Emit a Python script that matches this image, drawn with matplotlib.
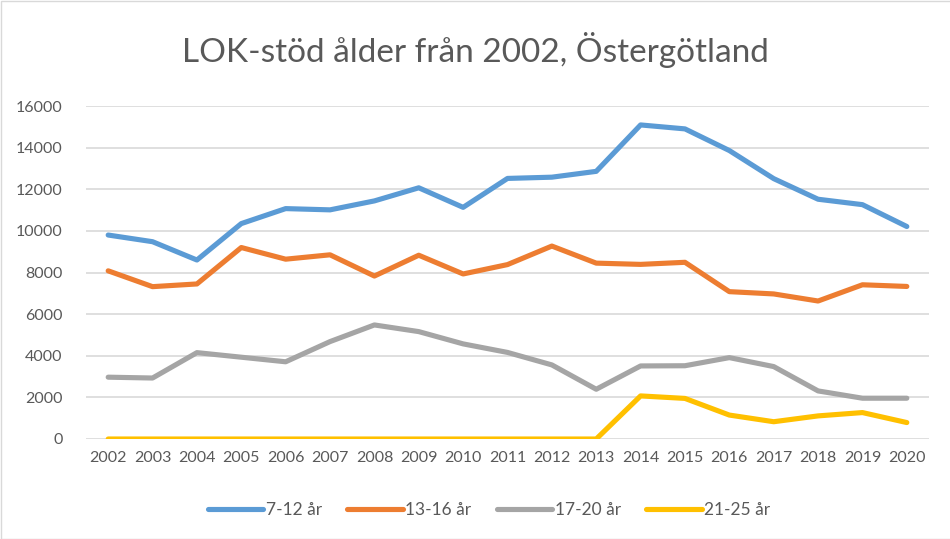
import matplotlib
matplotlib.use("Agg")
import matplotlib.pyplot as plt
from matplotlib.patches import Rectangle

plt.rcParams['font.family'] = ['Lato', 'DejaVu Sans']

years = [str(y) for y in range(2002, 2021)]
s_7_12 = [9800, 9480, 8600, 10350, 11070, 11010, 11440, 12070, 11130, 12520,
          12580, 12860, 15090, 14900, 13860, 12510, 11520, 11260, 10210]
s_13_16 = [8080, 7320, 7450, 9200, 8640, 8850, 7830, 8830, 7930, 8380,
           9270, 8450, 8390, 8490, 7080, 6970, 6630, 7410, 7330]
s_17_20 = [2970, 2930, 4150, 3930, 3710, 4680, 5480, 5160, 4570, 4160,
           3560, 2390, 3510, 3520, 3910, 3480, 2310, 1960, 1960]
s_21_25 = [0, 0, 0, 0, 0, 0, 0, 0, 0, 0,
           0, 0, 2070, 1950, 1150, 830, 1110, 1270, 790]

series = [("7-12 år", s_7_12, "#5B9BD5"),
          ("13-16 år", s_13_16, "#ED7D31"),
          ("17-20 år", s_17_20, "#A5A5A5"),
          ("21-25 år", s_21_25, "#FFC000")]
yticks = list(range(0, 16001, 2000))

fig = plt.figure(figsize=(9.5, 5.39), dpi=100)
ax = fig.add_axes([86/950, 1-439/539, (929-86)/950, (439-106)/539])

x = list(range(len(years)))
for name, vals, col in series:
    ax.plot(x, vals, color=col, lw=3.7, label=name, solid_capstyle='round',
            solid_joinstyle='round')

ax.set_xlim(-0.5, len(years) - 0.5)
ax.set_ylim(0, 16000)
ax.set_yticks(yticks)
ax.set_yticklabels([str(v) for v in yticks])
ax.set_xticks(x)
ax.set_xticklabels(years)
ax.tick_params(axis='both', length=0, colors='#595959', labelsize=11.5)
ax.tick_params(axis='y', pad=17)
ax.tick_params(axis='x', pad=9)
for sp in ax.spines.values():
    sp.set_visible(False)
ax.grid(axis='y', color='#D9D9D9', lw=1.2)
ax.set_axisbelow(True)

fig.text(0.5, 1 - 50/539, "LOK-stöd ålder från 2002, Östergötland",
         ha='center', va='center', fontsize=24, color='#595959')

leg = fig.legend(loc='center', bbox_to_anchor=(489/950, 1 - 510/539), ncol=4,
                 frameon=False, fontsize=12.5, handlelength=3.2,
                 columnspacing=1.45, handletextpad=0.15)
for t in leg.get_texts():
    t.set_color('#595959')

fig.patches.append(Rectangle((0.5/950, 0), 1, 1 - 0.5/539, transform=fig.transFigure,
                             fill=False, edgecolor='#D9D9D9', lw=1))

fig.savefig("out.png", dpi=100)
